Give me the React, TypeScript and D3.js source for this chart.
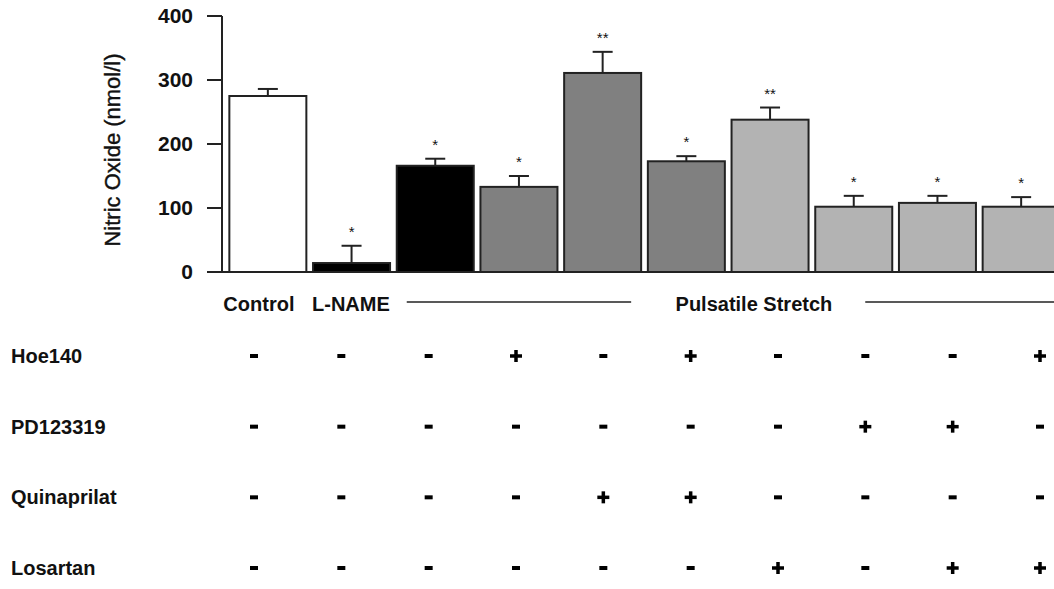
import React from "react";
import * as d3 from "d3";

// Nitric oxide release per treatment group
const groups = ["Control", "L-NAME", "PS", "PS+Hoe", "PS+Quin", "PS+Hoe+Quin", "PS+Los", "PS+PD", "PS+PD+Los", "PS+Hoe+Los"];
const values = [275, 14, 166, 133, 311, 173, 238, 102, 108, 102];
const errors = [11, 27, 11, 17, 33, 8, 19, 17, 11, 15];
const marks = ["", "*", "*", "*", "**", "*", "**", "*", "*", "*"];
const fills = ["#ffffff", "#000000", "#000000", "#808080", "#808080", "#808080", "#b3b3b3", "#b3b3b3", "#b3b3b3", "#b3b3b3"];
const yTicks = [0, 100, 200, 300, 400];

// Treatment table (+ / -)
const rowNames = ["Hoe140", "PD123319", "Quinaprilat", "Losartan"];
const hoe140 = ["-", "-", "-", "+", "-", "+", "-", "-", "-", "+"];
const pd123319 = ["-", "-", "-", "-", "-", "-", "-", "+", "+", "-"];
const quinaprilat = ["-", "-", "-", "-", "+", "+", "-", "-", "-", "-"];
const losartan = ["-", "-", "-", "-", "-", "-", "+", "-", "+", "+"];
const tableRows = [hoe140, pd123319, quinaprilat, losartan];

const FONT = "'Liberation Sans', Arial, sans-serif";
const INK = "#222";

export default function App() {
  const width = 1054;
  const height = 589;

  const x = d3.scaleBand<string>().domain(groups).range([226, 1063]).paddingInner(0.08).paddingOuter(0.04);
  const y = d3.scaleLinear().domain([0, 400]).range([272, 16]);
  const col = d3.scalePoint<number>().domain(d3.range(groups.length)).range([254, 1040]);
  const row = d3.scalePoint<string>().domain(rowNames).range([356, 568]);

  const axisX = 222;
  const bw = x.bandwidth();

  return (
    <svg width={width} height={height} style={{ position: "absolute", left: 0, top: 0, background: "#fff" }} fontFamily={FONT}>
      {/* bars */}
      {groups.map((g, i) => (
        <rect key={g} x={x(g)} y={y(values[i])} width={bw} height={y(0) - y(values[i])}
          fill={fills[i]} stroke={INK} strokeWidth={2} />
      ))}
      {/* error bars */}
      {groups.map((g, i) => {
        const cx = (x(g) as number) + bw / 2;
        const top = y(values[i] + errors[i]);
        return (
          <g key={"e" + g} stroke={INK} strokeWidth={2}>
            <line x1={cx} x2={cx} y1={y(values[i])} y2={top} />
            <line x1={cx - 10} x2={cx + 10} y1={top} y2={top} />
          </g>
        );
      })}
      {/* significance marks */}
      {groups.map((g, i) => (
        <text key={"m" + g} x={(x(g) as number) + bw / 2} y={y(values[i] + errors[i]) - 9}
          textAnchor="middle" fontSize={15} fill="#111">{marks[i]}</text>
      ))}

      {/* y axis */}
      <line x1={axisX} x2={axisX} y1={y(400)} y2={y(0)} stroke={INK} strokeWidth={2} />
      <line x1={axisX - 15} x2={width} y1={y(0)} y2={y(0)} stroke={INK} strokeWidth={2} />
      {yTicks.map((t) => (
        <g key={t}>
          <line x1={axisX - 15} x2={axisX} y1={y(t)} y2={y(t)} stroke={INK} strokeWidth={2} />
          <text x={193} y={y(t)} dy="0.35em" textAnchor="end" fontSize={21} fontWeight="bold" fill="#111">{t}</text>
        </g>
      ))}
      <text transform={`translate(120,150) rotate(-90)`} textAnchor="middle" fontSize={22} fill="#111"
        stroke="#111" strokeWidth={0.4}>
        Nitric Oxide (nmol/l)
      </text>

      {/* group labels */}
      <text x={(x(groups[0]) as number) - 6} y={311} fontSize={20} fontWeight="bold" fill="#111">Control</text>
      <text x={(x(groups[1]) as number) - 1} y={311} fontSize={20} fontWeight="bold" fill="#111">L-NAME</text>
      <line x1={(x(groups[2]) as number) + 10} x2={(x(groups[4]) as number) + bw - 10} y1={302} y2={302} stroke={INK} strokeWidth={1.5} />
      <text x={(x(groups[6]) as number) - 56} y={311} fontSize={20} fontWeight="bold" fill="#111">Pulsatile Stretch</text>
      <line x1={(x(groups[7]) as number) + 50} x2={width} y1={302} y2={302} stroke={INK} strokeWidth={1.5} />

      {/* treatment table */}
      {rowNames.map((name, r) => {
        const cy = row(name) as number;
        return (
          <g key={name}>
            <text x={11} y={cy + 7} fontSize={20} fontWeight="bold" fill="#111">{name}</text>
            {tableRows[r].map((s, c) => {
              const cx = col(c) as number;
              return s === "+" ? (
                <g key={c} fill="#000">
                  <rect x={cx - 6} y={cy - 1.75} width={12} height={3.5} />
                  <rect x={cx - 1.75} y={cy - 6} width={3.5} height={12} />
                </g>
              ) : (
                <rect key={c} x={cx - 4} y={cy - 2} width={8} height={4} fill="#000" />
              );
            })}
          </g>
        );
      })}
    </svg>
  );
}
